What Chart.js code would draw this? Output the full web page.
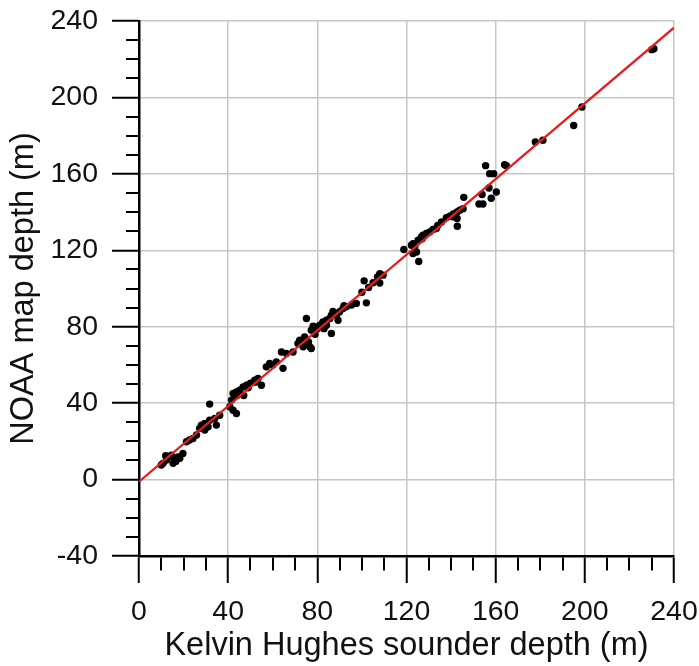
<!DOCTYPE html>
<html>
<head>
<meta charset="utf-8">
<script src="https://cdn.jsdelivr.net/npm/chart.js@4"></script>
<style>
  html, body { margin: 0; padding: 0; background: #fff; }
  #wrap { width: 699px; height: 666px; }
</style>
</head>
<body>
<div id="wrap"><canvas id="chart"></canvas></div>
<script>
// sounder depth (x) vs map depth (y), metres
const kelvinDepth = [
  10, 10.8, 12.3, 13.8, 14.5, 15.3, 15.9, 17.5, 18.3, 19.7, 12, 16.5,
  21.3, 22.7, 24.2, 25.8, 27.2, 28, 29.5, 29.5, 31, 31.7, 31.7, 34, 34.7, 36.2,
  40.7, 41.5, 42.2, 43.7, 42.2, 43.7, 45.2, 46.7, 48.2, 51.9, 53.4, 54.9, 47, 50,
  44, 49, 52,
  57.1, 58.6, 61.6, 63.9, 64.6, 66.1, 69.1, 60,
  71.3, 72.1, 73.6, 74.3, 75.1, 76.6, 77.3, 77.3, 78.1, 79.6, 81.1, 82.5, 84.1, 84.1,
  85.6, 86.3, 86.3, 88.6, 89.3, 90, 76, 79, 83, 73, 80, 87,
  91.5, 93, 95.3, 97.5, 102, 100, 101, 103, 105, 107, 108, 109.5, 108, 92, 96,
  118.8, 122.2, 122.9, 123.7, 124.5, 122.9, 125.5, 125.2, 126.7, 127.4, 128.9, 130.4,
  131.9, 133.4, 135.7, 137.9, 139.4, 140.9, 142.7, 143.9, 145.4, 142.7, 142.8, 145.7,
  127, 134, 141,
  152.5, 154.3, 153.9, 155.5, 157.3, 159.1, 157, 160.3, 158, 164, 164.8,
  177.8, 181.2, 195, 198.7, 230, 231
];
const noaaDepth = [
  7.6, 8.5, 10.2, 11.9, 12.8, 8.5, 11.1, 11.9, 11.1, 13.7, 12.5, 9.5,
  19.8, 20.7, 21.5, 23.3, 26.8, 28.5, 29.4, 25.9, 27.6, 31.1, 39.5, 32, 28.5, 33.7,
  38.1, 41.6, 36.3, 34.6, 45.1, 45.9, 46.8, 48.5, 49.4, 52, 52.9, 49.4, 44, 50.5,
  44, 48, 51,
  59, 60.8, 61.6, 66.8, 58.2, 66, 66.8, 60,
  71.2, 73, 69.5, 74.7, 84.3, 69.5, 68.6, 78.2, 80.3, 79.9, 80.8, 82.5, 83.4, 80.8,
  84.3, 86, 76.5, 86, 83.4, 87.8, 72, 76, 79, 72, 79, 88,
  89.5, 90.4, 91.3, 92.2, 92.5, 98, 104, 100.5, 103, 106, 107.8, 107, 102.9, 91, 92,
  120.4, 122.6, 123.5, 121.8, 119.1, 118.3, 114.1, 125.3, 127, 127.9, 128.8, 129.6,
  130.9, 131.4, 134.8, 137.1, 137.8, 137.5, 140, 141, 141.8, 136.6, 132.6, 147.7,
  126, 133, 139,
  144.2, 144.2, 149.2, 164.3, 160.1, 160.1, 152.6, 150.5, 147.2, 164.8, 164.3,
  176.7, 177.6, 185.3, 195, 225, 225.5
];

// fitted line end points
const fitX = [0, 240];
const fitY = [-1.1, 236.5];

const xTickLabels = [0, 40, 80, 120, 160, 200, 240];
const yTickLabels = [-40, 0, 40, 80, 120, 160, 200, 240];

const FONT = '"Liberation Sans", Arial, Helvetica, sans-serif';

const isMajor = (c) => c.tick && c.tick.value % 40 === 0;

function axisOpts(min, max, labels, titleText, horizontal) {
  return {
    type: 'linear',
    position: horizontal ? 'bottom' : 'left',
    min: min,
    max: max,
    border: { display: true, color: '#000', width: 2.5 },
    grid: {
      color: '#c6c6c6',
      lineWidth: (c) => (isMajor(c) ? 1.5 : 0),
      drawTicks: true,
      tickLength: 27,
      tickColor: '#000',
      tickWidth: 2,
      // minor ticks are shorter: dash only the part next to the axis
      tickBorderDash: (c) => {
        if (isMajor(c)) return [];
        return horizontal ? [13, 40] : [0, 14, 13, 0];
      }
    },
    ticks: {
      stepSize: 10,
      autoSkip: false,
      maxRotation: 0,
      minRotation: 0,
      padding: horizontal ? 12 : 14,
      color: '#111',
      font: { family: FONT, size: 28.5 },
      callback: (v) => (labels.includes(v) ? String(v) : '')
    },
    title: {
      display: true,
      text: titleText,
      color: '#111',
      font: { family: FONT, size: 32.5 },
      padding: horizontal ? { top: 0, bottom: 0 } : { top: 5, bottom: 0 }
    },
    afterFit: (scale) => {
      if (horizontal) scale.height = 110;
      else scale.width = 139;
      // let layout.padding alone decide the plot edges
      scale.paddingTop = 0;
      scale.paddingBottom = 0;
      scale.paddingLeft = 0;
      scale.paddingRight = 0;
    }
  };
}

const ctx = document.getElementById('chart').getContext('2d');
new Chart(ctx, {
  type: 'scatter',
  data: {
    datasets: [
      {
        type: 'line',
        label: 'fit',
        data: fitX.map((x, i) => ({ x: x, y: fitY[i] })),
        borderColor: '#e41e1e',
        borderWidth: 2.3,
        pointRadius: 0,
        fill: false
      },
      {
        label: 'depth',
        data: kelvinDepth.map((x, i) => ({ x: x, y: noaaDepth[i] })),
        backgroundColor: '#000',
        borderWidth: 0,
        pointRadius: 3.7
      }
    ]
  },
  options: {
    responsive: true,
    maintainAspectRatio: false,
    animation: false,
    layout: { padding: { top: 21, right: 25, bottom: 0, left: 0 } },
    plugins: {
      legend: { display: false },
      tooltip: { enabled: false }
    },
    scales: {
      x: axisOpts(0, 240, xTickLabels, 'Kelvin Hughes sounder depth (m)', true),
      y: axisOpts(-40, 240, yTickLabels, 'NOAA map depth (m)', false)
    }
  }
});
</script>
</body>
</html>
